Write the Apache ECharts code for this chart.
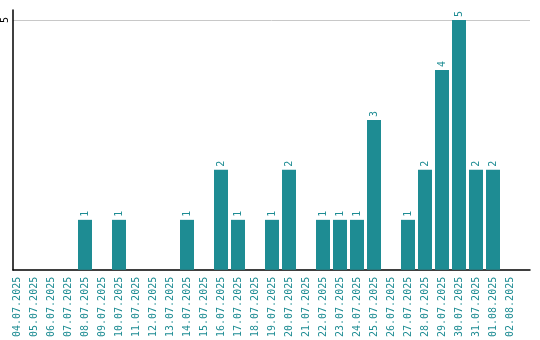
<!DOCTYPE html>
<html><head><meta charset="utf-8">
<script src="https://cdn.jsdelivr.net/npm/echarts@6/dist/echarts.min.js"></script>
<style>html,body{margin:0;padding:0;background:#fff}#c{width:540px;height:340px}</style>
</head><body><div id="c"></div>
<script>
var categories = ["04.07.2025","05.07.2025","06.07.2025","07.07.2025","08.07.2025","09.07.2025","10.07.2025","11.07.2025","12.07.2025","13.07.2025","14.07.2025","15.07.2025","16.07.2025","17.07.2025","18.07.2025","19.07.2025","20.07.2025","21.07.2025","22.07.2025","23.07.2025","24.07.2025","25.07.2025","26.07.2025","27.07.2025","28.07.2025","29.07.2025","30.07.2025","31.07.2025","01.08.2025","02.08.2025"];
var values = [0,0,0,0,1,0,1,0,0,0,1,0,2,1,0,1,2,0,1,1,1,3,0,1,2,4,5,2,2,0];
var teal = '#1e8c93';
var font = 'DejaVu Sans Mono';
var chart = echarts.init(document.getElementById('c'), null, {renderer:'canvas'});
chart.setOption({
  animation:false,
  grid:[
    {left:8.5,width:510,top:10,bottom:70,containLabel:false},
    {left:11,right:10,top:10,bottom:70,containLabel:false}
  ],
  xAxis:[
    {type:'category',data:categories,gridIndex:0,
      axisLine:{show:false},axisTick:{show:false},
      axisLabel:{rotate:90,interval:0,color:teal,fontFamily:font,fontSize:10,margin:7}},
    {type:'value',gridIndex:1,min:0,max:1,
      axisLine:{show:true,lineStyle:{color:'#000',width:1.5}},
      axisTick:{show:false},axisLabel:{show:false},splitLine:{show:false}}
  ],
  yAxis:[
    {type:'value',gridIndex:0,min:0,max:5.2,interval:5,show:false},
    {type:'value',gridIndex:1,min:0,max:5.2,interval:5,
      axisLine:{show:true,lineStyle:{color:'#000',width:1.5}},
      axisTick:{show:false},
      splitLine:{show:true,showMaxLine:false,showMinLine:false,lineStyle:{color:'#c8c8c8',width:1}},
      axisLabel:{rotate:90,color:'#000',fontFamily:font,fontSize:10,margin:3,showMaxLabel:false,
        formatter:function(v){return v===5?'5':'';}}}
  ],
  series:[{type:'bar',xAxisIndex:0,yAxisIndex:0,data:values,barWidth:14,itemStyle:{color:teal},
    label:{show:true,position:'top',rotate:90,align:'left',verticalAlign:'middle',distance:3,
      color:teal,fontFamily:font,fontSize:10,
      formatter:function(p){return p.value>0?String(p.value):'';}}}]
});
</script></body></html>
